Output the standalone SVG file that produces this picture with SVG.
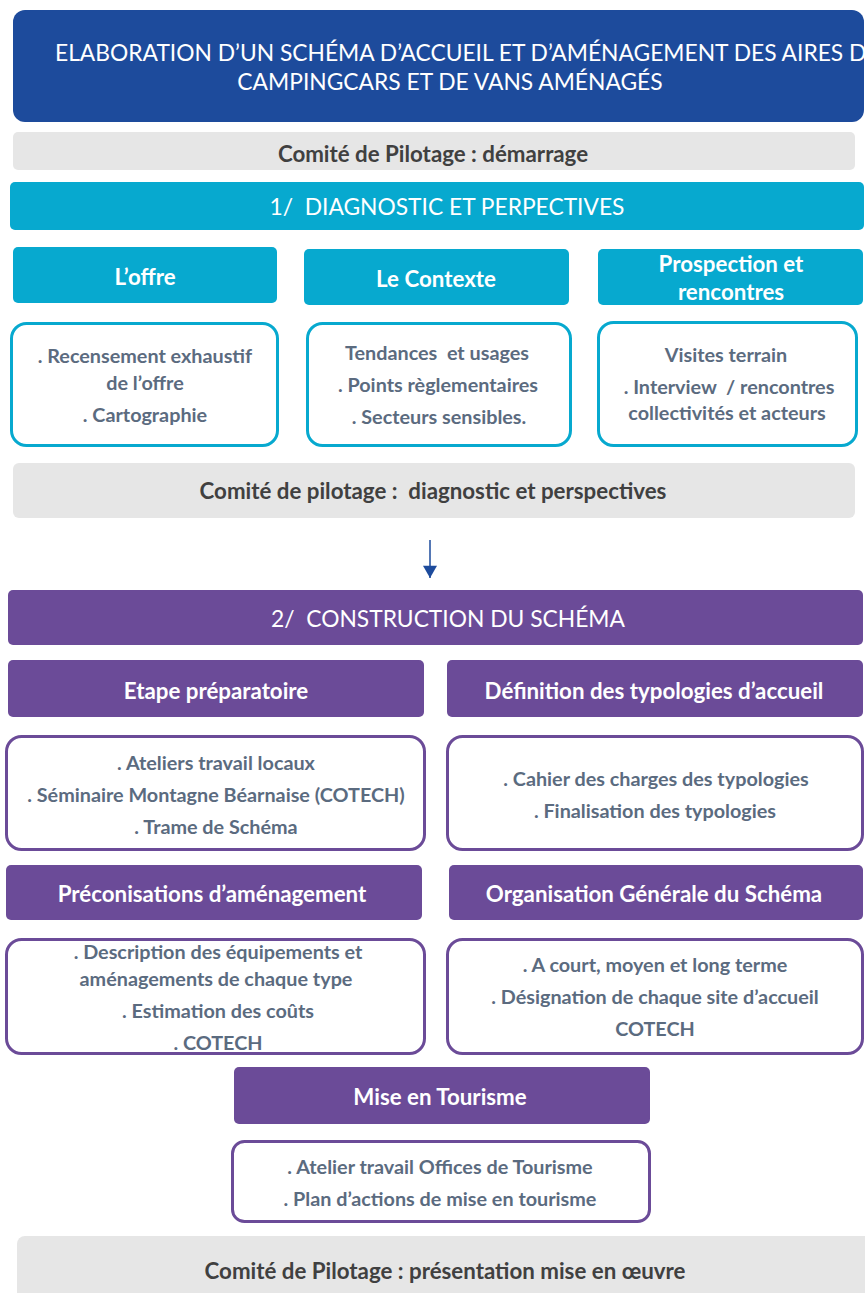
<svg xmlns="http://www.w3.org/2000/svg" width="865" height="1293" viewBox="0 0 865 1293" xml:space="preserve">
<defs>
<style>
.t{font-family:Lato,"Open Sans","Liberation Sans",sans-serif;text-anchor:middle;white-space:pre}
.hd{fill:#fff;font-size:22.8px}
.hb{fill:#fff;font-size:22.3px;font-weight:bold}
.gb{fill:#404040;font-size:22.3px;font-weight:bold}
.bd{fill:#5b6b7f;font-size:19.8px;font-weight:bold}
.blue{fill:#1d4b9c}
.gray{fill:#e6e6e6}
.cyan{fill:#07a9cf}
.cbox{fill:#fff;stroke:#07a9cf;stroke-width:3}
.purple{fill:#6b4b98}
.pbox{fill:#fff;stroke:#6b4b98;stroke-width:3}
</style>
<marker id="ah" viewBox="0 0 14 16" refX="14" refY="8" markerWidth="16" markerHeight="14" markerUnits="userSpaceOnUse" orient="auto">
<path d="M0,0 L14,8 L0,16 z" fill="#1d4b9c"/>
</marker>
<clipPath id="titleclip"><rect x="13" y="10" width="851" height="112" rx="12"/></clipPath>
</defs>
<rect width="865" height="1293" fill="#fff"/>

<g id="title">
<rect class="blue" x="13" y="10" width="851" height="112" rx="12"/>
<g clip-path="url(#titleclip)">
<text class="t hd" x="55" y="61" style="text-anchor:start">ELABORATION D’UN SCHÉMA D’ACCUEIL ET D’AMÉNAGEMENT DES AIRES D</text>
</g>
<text class="t hd" x="450" y="90">CAMPINGCARS ET DE VANS AMÉNAGÉS</text>
</g>

<g id="copil1">
<rect class="gray" x="13" y="132" width="842" height="38" rx="5"/>
<text class="t gb" x="433" y="162">Comité de Pilotage : démarrage</text>
</g>

<g id="phase1">
<rect class="cyan" x="10" y="182" width="854" height="48" rx="5"/>
<text class="t hd" x="447" y="215">1/  DIAGNOSTIC ET PERPECTIVES</text>
</g>

<g id="offre">
<rect class="cyan" x="13" y="247" width="264" height="56" rx="5"/>
<text class="t hb" x="145" y="285">L’offre</text>
</g>
<g id="contexte">
<rect class="cyan" x="304" y="249" width="265" height="56" rx="5"/>
<text class="t hb" x="436" y="287">Le Contexte</text>
</g>
<g id="prospection">
<rect class="cyan" x="598" y="249" width="265" height="56" rx="5"/>
<text class="t hb" x="731" y="272">Prospection et</text>
<text class="t hb" x="731" y="300">rencontres</text>
</g>

<g id="offre-detail">
<rect class="cbox" x="11.5" y="323.5" width="266" height="122" rx="15"/>
<text class="t bd" x="145" y="363">. Recensement exhaustif</text>
<text class="t bd" x="145" y="390">de l’offre</text>
<text class="t bd" x="145" y="422">. Cartographie</text>
</g>
<g id="contexte-detail">
<rect class="cbox" x="307.5" y="323.5" width="263" height="122" rx="15"/>
<text class="t bd" x="437" y="360">Tendances  et usages</text>
<text class="t bd" x="438" y="392">. Points règlementaires</text>
<text class="t bd" x="439" y="424">. Secteurs sensibles.</text>
</g>
<g id="prospection-detail">
<rect class="cbox" x="598.5" y="322.5" width="258" height="123" rx="15"/>
<text class="t bd" x="726" y="362">Visites terrain</text>
<text class="t bd" x="729" y="394">. Interview  / rencontres</text>
<text class="t bd" x="727" y="420">collectivités et acteurs</text>
</g>

<g id="copil2">
<rect class="gray" x="13" y="463" width="842" height="55" rx="6"/>
<text class="t gb" x="433" y="499">Comité de pilotage :  diagnostic et perspectives</text>
</g>

<g id="connectors">
<line x1="430" y1="540" x2="430" y2="578" stroke="#1d4b9c" stroke-width="1.5" marker-end="url(#ah)"/>
</g>

<g id="phase2">
<rect class="purple" x="8" y="590" width="855" height="55" rx="5"/>
<text class="t hd" x="448" y="627">2/  CONSTRUCTION DU SCHÉMA</text>
</g>

<g id="etape">
<rect class="purple" x="8" y="660" width="416" height="57" rx="5"/>
<text class="t hb" x="216" y="699">Etape préparatoire</text>
</g>
<g id="definition">
<rect class="purple" x="447" y="660" width="416" height="57" rx="5"/>
<text class="t hb" x="654" y="699">Définition des typologies d’accueil</text>
</g>

<g id="etape-detail">
<rect class="pbox" x="6.5" y="736.5" width="418" height="113" rx="15"/>
<text class="t bd" x="216" y="770">. Ateliers travail locaux</text>
<text class="t bd" x="216" y="802">. Séminaire Montagne Béarnaise (COTECH)</text>
<text class="t bd" x="216" y="834">. Trame de Schéma</text>
</g>
<g id="definition-detail">
<rect class="pbox" x="447.5" y="736.5" width="415" height="113" rx="15"/>
<text class="t bd" x="656" y="786">. Cahier des charges des typologies</text>
<text class="t bd" x="655" y="818">. Finalisation des typologies</text>
</g>

<g id="preconisations">
<rect class="purple" x="6" y="865" width="416" height="55" rx="5"/>
<text class="t hb" x="212" y="902">Préconisations d’aménagement</text>
</g>
<g id="organisation">
<rect class="purple" x="449" y="865" width="414" height="55" rx="5"/>
<text class="t hb" x="654" y="902">Organisation Générale du Schéma</text>
</g>

<g id="preconisations-detail">
<rect class="pbox" x="6.5" y="939.5" width="418" height="114" rx="15"/>
<text class="t bd" x="218" y="959">. Description des équipements et</text>
<text class="t bd" x="216" y="986">aménagements de chaque type</text>
<text class="t bd" x="218" y="1018">. Estimation des coûts</text>
<text class="t bd" x="218" y="1050">. COTECH</text>
</g>
<g id="organisation-detail">
<rect class="pbox" x="447.5" y="939.5" width="415" height="114" rx="15"/>
<text class="t bd" x="655" y="972">. A court, moyen et long terme</text>
<text class="t bd" x="655" y="1004">. Désignation de chaque site d’accueil</text>
<text class="t bd" x="655" y="1036">COTECH</text>
</g>

<g id="mise">
<rect class="purple" x="234" y="1067" width="416" height="57" rx="5"/>
<text class="t hb" x="440" y="1105">Mise en Tourisme</text>
</g>
<g id="mise-detail">
<rect class="pbox" x="232.5" y="1141.5" width="417" height="80" rx="12"/>
<text class="t bd" x="440" y="1174">. Atelier travail Offices de Tourisme</text>
<text class="t bd" x="440" y="1206">. Plan d’actions de mise en tourisme</text>
</g>

<g id="copil3">
<rect class="gray" x="17" y="1236" width="860" height="70" rx="8"/>
<text class="t gb" x="445" y="1279">Comité de Pilotage : présentation mise en œuvre</text>
</g>
</svg>
